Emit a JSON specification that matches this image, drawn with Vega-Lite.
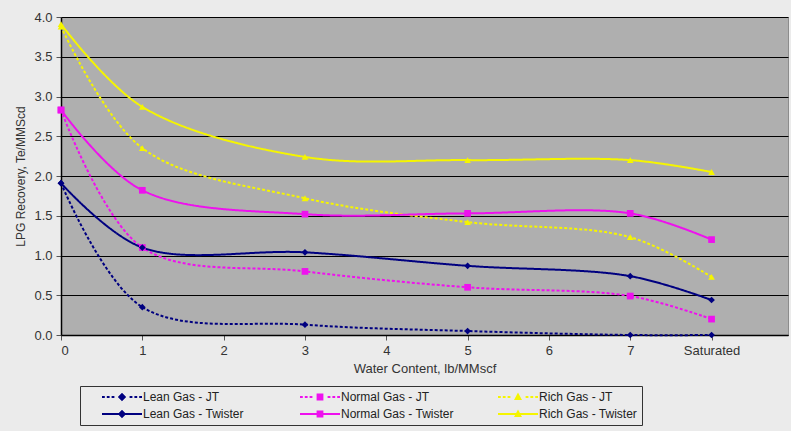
{
  "$schema": "https://vega.github.io/schema/vega-lite/v6.json",
  "width": 727,
  "height": 318,
  "autosize": {"type": "none"},
  "padding": {"left": 61, "top": 17, "right": 3, "bottom": 96},
  "background": "#ebebeb",
  "config": {
    "view": {"fill": "#afafaf", "stroke": "#8c8c8c", "strokeWidth": 1},
    "font": "Liberation Sans"
  },
  "data": {
    "values": [
      {"series": "Rich Gas - JT", "gas": "Rich", "x": 0, "y": 3.88},
      {"series": "Rich Gas - JT", "gas": "Rich", "x": 1, "y": 2.35},
      {"series": "Rich Gas - JT", "gas": "Rich", "x": 3, "y": 1.72},
      {"series": "Rich Gas - JT", "gas": "Rich", "x": 5, "y": 1.42},
      {"series": "Rich Gas - JT", "gas": "Rich", "x": 7, "y": 1.23},
      {"series": "Rich Gas - JT", "gas": "Rich", "x": 8, "y": 0.73},
      {"series": "Rich Gas - Twister", "gas": "Rich", "x": 0, "y": 3.91},
      {"series": "Rich Gas - Twister", "gas": "Rich", "x": 1, "y": 2.87},
      {"series": "Rich Gas - Twister", "gas": "Rich", "x": 3, "y": 2.24},
      {"series": "Rich Gas - Twister", "gas": "Rich", "x": 5, "y": 2.2},
      {"series": "Rich Gas - Twister", "gas": "Rich", "x": 7, "y": 2.2},
      {"series": "Rich Gas - Twister", "gas": "Rich", "x": 8, "y": 2.05},
      {"series": "Normal Gas - JT", "gas": "Normal", "x": 0, "y": 2.83},
      {"series": "Normal Gas - JT", "gas": "Normal", "x": 1, "y": 1.1},
      {"series": "Normal Gas - JT", "gas": "Normal", "x": 3, "y": 0.8},
      {"series": "Normal Gas - JT", "gas": "Normal", "x": 5, "y": 0.6},
      {"series": "Normal Gas - JT", "gas": "Normal", "x": 7, "y": 0.49},
      {"series": "Normal Gas - JT", "gas": "Normal", "x": 8, "y": 0.2},
      {"series": "Normal Gas - Twister", "gas": "Normal", "x": 0, "y": 2.83},
      {"series": "Normal Gas - Twister", "gas": "Normal", "x": 1, "y": 1.82},
      {"series": "Normal Gas - Twister", "gas": "Normal", "x": 3, "y": 1.52},
      {"series": "Normal Gas - Twister", "gas": "Normal", "x": 5, "y": 1.53},
      {"series": "Normal Gas - Twister", "gas": "Normal", "x": 7, "y": 1.53},
      {"series": "Normal Gas - Twister", "gas": "Normal", "x": 8, "y": 1.2},
      {"series": "Lean Gas - JT", "gas": "Lean", "x": 0, "y": 1.91},
      {"series": "Lean Gas - JT", "gas": "Lean", "x": 1, "y": 0.35},
      {"series": "Lean Gas - JT", "gas": "Lean", "x": 3, "y": 0.13},
      {"series": "Lean Gas - JT", "gas": "Lean", "x": 5, "y": 0.05},
      {"series": "Lean Gas - JT", "gas": "Lean", "x": 7, "y": 0.0},
      {"series": "Lean Gas - JT", "gas": "Lean", "x": 8, "y": 0.0},
      {"series": "Lean Gas - Twister", "gas": "Lean", "x": 0, "y": 1.91},
      {"series": "Lean Gas - Twister", "gas": "Lean", "x": 1, "y": 1.1},
      {"series": "Lean Gas - Twister", "gas": "Lean", "x": 3, "y": 1.04},
      {"series": "Lean Gas - Twister", "gas": "Lean", "x": 5, "y": 0.87},
      {"series": "Lean Gas - Twister", "gas": "Lean", "x": 7, "y": 0.74},
      {"series": "Lean Gas - Twister", "gas": "Lean", "x": 8, "y": 0.44}
    ]
  },
  "encoding": {
    "x": {
      "field": "x",
      "type": "quantitative",
      "scale": {"domain": [0, 8.94], "nice": false, "zero": false},
      "axis": {
        "values": [0, 1, 2, 3, 4, 5, 6, 7, 8],
        "labelExpr": "datum.value == 8 ? 'Saturated' : datum.label",
        "grid": false,
        "domainColor": "#000000",
        "domainWidth": 1.5,
        "tickColor": "#555555",
        "tickSize": 5,
        "labelPadding": 4,
        "labelFontSize": 13,
        "labelColor": "#333333",
        "title": "Water Content, lb/MMscf",
        "titleFontSize": 13,
        "titleFontWeight": "normal",
        "titleColor": "#333333",
        "titlePadding": 5
      }
    },
    "y": {
      "field": "y",
      "type": "quantitative",
      "scale": {"domain": [0, 4], "nice": false},
      "axis": {
        "values": [0, 0.5, 1, 1.5, 2, 2.5, 3, 3.5, 4],
        "format": ".1f",
        "grid": true,
        "gridColor": "#000000",
        "gridWidth": 1.2,
        "domainColor": "#000000",
        "domainWidth": 1.5,
        "tickColor": "#555555",
        "tickSize": 5,
        "labelPadding": 4,
        "labelFontSize": 13,
        "labelColor": "#333333",
        "title": "LPG Recovery, Te/MMScd",
        "titleFontSize": 12,
        "titleFontWeight": "normal",
        "titleColor": "#333333",
        "titlePadding": 6
      }
    },
    "color": {
      "field": "series",
      "type": "nominal",
      "scale": {
        "domain": ["Lean Gas - JT", "Lean Gas - Twister", "Normal Gas - JT", "Normal Gas - Twister", "Rich Gas - JT", "Rich Gas - Twister"],
        "range": ["#000080", "#000080", "#ee11ee", "#ee11ee", "#f5f500", "#f5f500"]
      },
      "legend": {
        "orient": "none",
        "legendX": 19,
        "legendY": 369,
        "columns": 3,
        "title": null,
        "gridAlign": "all",
        "symbolSize": 1600,
        "symbolOffset": 18,
        "labelOffset": 1,
        "clipHeight": 14,
        "labelFontSize": 12,
        "labelColor": "#222222",
        "columnPadding": 26,
        "rowPadding": 3,
        "padding": 4,
        "strokeColor": "#333333",
        "fillColor": "#ebebeb",
        "encode": {
          "symbols": {
            "update": {
              "shape": {"signal": "datum.value === 'Lean Gas - JT' ? 'M-1,-0.05L-0.86,-0.05L-0.86,0.05L-1,0.05Z M-0.76,-0.05L-0.62,-0.05L-0.62,0.05L-0.76,0.05Z M-0.52,-0.05L-0.38,-0.05L-0.38,0.05L-0.52,0.05Z M0.38,-0.05L0.52,-0.05L0.52,0.05L0.38,0.05Z M0.62,-0.05L0.76,-0.05L0.76,0.05L0.62,0.05Z M0.86,-0.05L1,-0.05L1,0.05L0.86,0.05Z M0,-0.21L0.21,0L0,0.21L-0.21,0Z' : datum.value === 'Normal Gas - JT' ? 'M-1,-0.05L-0.86,-0.05L-0.86,0.05L-1,0.05Z M-0.76,-0.05L-0.62,-0.05L-0.62,0.05L-0.76,0.05Z M-0.52,-0.05L-0.38,-0.05L-0.38,0.05L-0.52,0.05Z M0.38,-0.05L0.52,-0.05L0.52,0.05L0.38,0.05Z M0.62,-0.05L0.76,-0.05L0.76,0.05L0.62,0.05Z M0.86,-0.05L1,-0.05L1,0.05L0.86,0.05Z M-0.17,-0.17L0.17,-0.17L0.17,0.17L-0.17,0.17Z' : datum.value === 'Rich Gas - JT' ? 'M-1,-0.05L-0.86,-0.05L-0.86,0.05L-1,0.05Z M-0.76,-0.05L-0.62,-0.05L-0.62,0.05L-0.76,0.05Z M-0.52,-0.05L-0.38,-0.05L-0.38,0.05L-0.52,0.05Z M0.38,-0.05L0.52,-0.05L0.52,0.05L0.38,0.05Z M0.62,-0.05L0.76,-0.05L0.76,0.05L0.62,0.05Z M0.86,-0.05L1,-0.05L1,0.05L0.86,0.05Z M0,-0.22L0.2,0.15L-0.2,0.15Z' : datum.value === 'Lean Gas - Twister' ? 'M-1,-0.05L1,-0.05L1,0.05L-1,0.05Z M0,-0.21L0.21,0L0,0.21L-0.21,0Z' : datum.value === 'Normal Gas - Twister' ? 'M-1,-0.05L1,-0.05L1,0.05L-1,0.05Z M-0.17,-0.17L0.17,-0.17L0.17,0.17L-0.17,0.17Z' : 'M-1,-0.05L1,-0.05L1,0.05L-1,0.05Z M0,-0.22L0.2,0.15L-0.2,0.15Z'"},
              "fill": {"signal": "scale('color', datum.value)"},
              "stroke": {"value": "transparent"},
              "strokeWidth": {"value": 0},
              "strokeDash": {"value": [1, 0]},
              "opacity": {"value": 1}
            }
          }
        }
      }
    }
  },
  "layer": [
    {
      "mark": {"type": "line", "interpolate": "catmull-rom", "strokeWidth": 2},
      "encoding": {
        "strokeDash": {
          "field": "series",
          "type": "nominal",
          "scale": {
            "domain": ["Lean Gas - JT", "Lean Gas - Twister", "Normal Gas - JT", "Normal Gas - Twister", "Rich Gas - JT", "Rich Gas - Twister"],
            "range": [[3, 2], [1, 0], [3, 2], [1, 0], [3, 2], [1, 0]]
          },
          "legend": null
        }
      }
    },
    {
      "mark": {"type": "point", "filled": true, "size": 45, "opacity": 1},
      "encoding": {
        "shape": {
          "field": "gas",
          "type": "nominal",
          "scale": {
            "domain": ["Lean", "Normal", "Rich"],
            "range": ["diamond", "square", "triangle-up"]
          },
          "legend": null
        }
      }
    }
  ]
}
